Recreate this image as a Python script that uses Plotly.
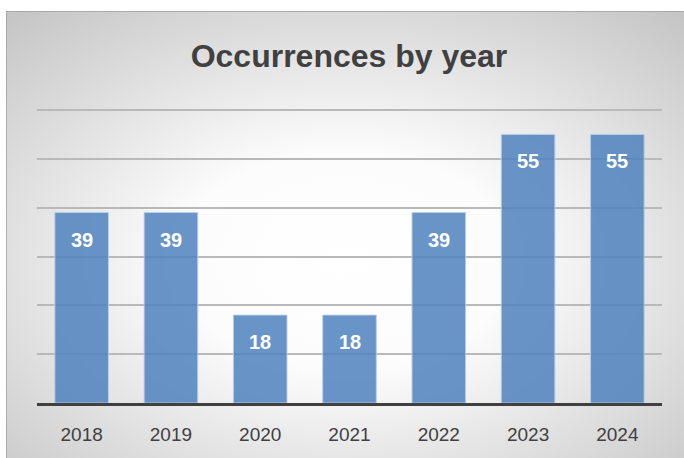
import base64
import plotly.graph_objects as go

# Yearly occurrence counts
years = ["2018", "2019", "2020", "2021", "2022", "2023", "2024"]
counts = [39, 39, 18, 18, 39, 55, 55]
grid_vals = [10, 20, 30, 40, 50, 60]

W, H = 684, 458
# plot-area box in pixels (top kept a little above the 60 gridline)
L, R, T, B = 37, 662, 100, 403
PW, PH = R - L, B - T
Y_TOP = 60 * PH / (B - 110)  # value at the top edge so that 60 sits at y=110

# chart-area box (radial gray gradient card)
CX0, CY0, CX1, CY1 = 6, 11, 684, 458


def px_to_paper_x(px):
    return (px - L) / PW


def px_to_paper_y(py):
    return (B - py) / PH


svg = f"""<svg xmlns='http://www.w3.org/2000/svg' width='{CX1-CX0}' height='{CY1-CY0}' preserveAspectRatio='none' viewBox='0 0 {CX1-CX0} {CY1-CY0}'>
<defs><radialGradient id='g' cx='0.5' cy='0.56' r='0.74' fx='0.5' fy='0.56'>
<stop offset='0' stop-color='#ffffff'/>
<stop offset='0.33' stop-color='#fcfcfc'/>
<stop offset='1' stop-color='#c5c5c5'/>
</radialGradient></defs>
<rect x='0' y='0' width='{CX1-CX0}' height='{CY1-CY0}' fill='url(#g)'/>
</svg>"""
bg_src = "data:image/svg+xml;base64," + base64.b64encode(svg.encode()).decode()

FONT = "Liberation Sans, Arial, sans-serif"

fig = go.Figure()
fig.add_trace(go.Bar(
    x=list(range(len(years))),
    y=counts,
    marker=dict(color="rgba(79,129,189,0.85)",
                line=dict(color="rgba(185,205,232,0.9)", width=1)),
    hoverinfo="skip",
))

# value labels inside the top of each bar
for i, v in enumerate(counts):
    fig.add_annotation(
        x=i, y=v, xref="x", yref="y",
        text=f"<b>{v}</b>", showarrow=False,
        yanchor="middle", yshift=-27,
        font=dict(family=FONT, size=20, color="white"),
    )

fig.add_layout_image(
    source=bg_src,
    xref="paper", yref="paper",
    x=px_to_paper_x(CX0), y=px_to_paper_y(CY0),
    sizex=(CX1 - CX0) / PW, sizey=(CY1 - CY0) / PH,
    xanchor="left", yanchor="top",
    sizing="stretch", layer="below",
)

# thin frame around the chart card
fig.add_shape(
    type="rect", xref="paper", yref="paper",
    x0=px_to_paper_x(CX0 + 0.5), x1=px_to_paper_x(CX1 + 2),
    y0=px_to_paper_y(CY1 + 2), y1=px_to_paper_y(CY0 + 0.5),
    line=dict(color="rgba(160,160,160,0.8)", width=1),
    fillcolor="rgba(0,0,0,0)", layer="below",
)

fig.update_layout(
    width=W, height=H,
    margin=dict(l=L, r=W - R, t=T, b=H - B, pad=0),
    paper_bgcolor="white",
    plot_bgcolor="rgba(0,0,0,0)",
    bargap=0.4,
    showlegend=False,
    title=dict(
        text="<b>Occurrences by year</b>",
        x=px_to_paper_x(349), xref="paper", xanchor="center",
        y=1 - 56 / H, yref="container", yanchor="middle",
        font=dict(family=FONT, size=32, color="#404040"),
    ),
    xaxis=dict(
        range=[-0.5, len(years) - 0.5],
        tickmode="array",
        tickvals=list(range(len(years))),
        ticktext=years,
        showline=True, linecolor="#404040", linewidth=3,
        showgrid=False, zeroline=False,
        ticks="outside", ticklen=12, tickcolor="rgba(0,0,0,0)",
        tickfont=dict(family=FONT, size=19, color="#404040"),
    ),
    yaxis=dict(
        range=[0, Y_TOP], tickvals=grid_vals,
        showticklabels=False,
        showgrid=True, gridcolor="#b9b9b9", gridwidth=1.5,
        zeroline=False, showline=False,
    ),
)

fig.write_html("out.html")
